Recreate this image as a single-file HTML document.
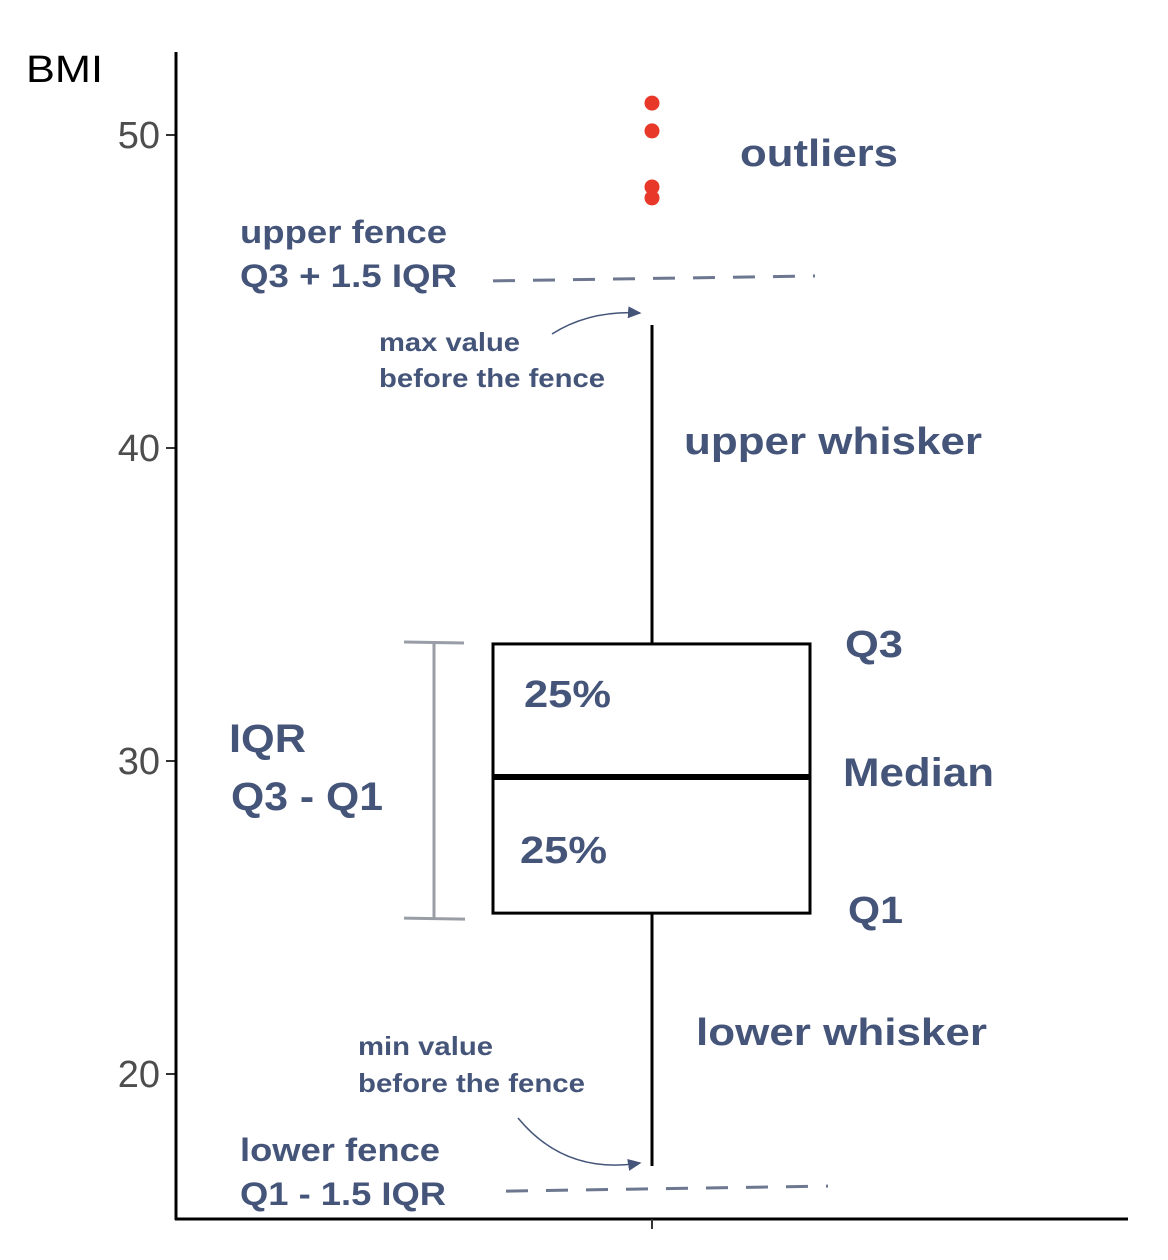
<!DOCTYPE html>
<html><head><meta charset="utf-8"><style>
html,body{margin:0;padding:0;background:#fff;}
svg{display:block;}
.lab{font-family:"Liberation Sans",sans-serif;font-weight:bold;fill:#45557a;}
.tick{font-family:"Liberation Sans",sans-serif;fill:#4d4d4d;font-size:38px;}
</style></head><body>
<svg id="chart" width="1168" height="1260" viewBox="0 0 1168 1260">
<defs><marker id="arr" markerWidth="10" markerHeight="10" refX="8" refY="4" orient="auto"><path d="M0,0 L9,4 L0,8 z" fill="#45557a"/></marker></defs>
<g id="marks"></g>
<line x1="176" y1="52" x2="176" y2="1220" stroke="#000" stroke-width="3"/>
<line x1="175" y1="1219" x2="1128" y2="1219" stroke="#000" stroke-width="3"/>
<line x1="652" y1="1219" x2="652" y2="1229" stroke="#333" stroke-width="2"/>
<text x="26" y="82" font-family="Liberation Sans,sans-serif" font-size="38" fill="#000" textLength="77" lengthAdjust="spacingAndGlyphs">BMI</text>
<text class="lab" x="740" y="166" font-size="38" textLength="158" lengthAdjust="spacingAndGlyphs">outliers</text>
<text class="lab" x="240" y="243" font-size="32" textLength="207" lengthAdjust="spacingAndGlyphs">upper fence</text>
<text class="lab" x="240" y="287" font-size="32" textLength="217" lengthAdjust="spacingAndGlyphs">Q3 + 1.5 IQR</text>
<text class="lab" x="379" y="351" font-size="26" textLength="141" lengthAdjust="spacingAndGlyphs">max value</text>
<text class="lab" x="379" y="387" font-size="26" textLength="226" lengthAdjust="spacingAndGlyphs">before the fence</text>
<path d="M552,334 Q590,310 640,313" fill="none" stroke="#45557a" stroke-width="1.5" marker-end="url(#arr)"/>
<text class="lab" x="684" y="454" font-size="38" textLength="298" lengthAdjust="spacingAndGlyphs">upper whisker</text>
<text class="lab" x="845" y="657" font-size="38" textLength="58" lengthAdjust="spacingAndGlyphs">Q3</text>
<text class="lab" x="843" y="786" font-size="40" textLength="151" lengthAdjust="spacingAndGlyphs">Median</text>
<text class="lab" x="848" y="923" font-size="38" textLength="55" lengthAdjust="spacingAndGlyphs">Q1</text>
<text class="lab" x="524" y="707" font-size="38" textLength="87" lengthAdjust="spacingAndGlyphs">25%</text>
<text class="lab" x="520" y="863" font-size="38" textLength="87" lengthAdjust="spacingAndGlyphs">25%</text>
<text class="lab" x="229" y="752" font-size="40" textLength="77" lengthAdjust="spacingAndGlyphs">IQR</text>
<text class="lab" x="231" y="810" font-size="40" textLength="152" lengthAdjust="spacingAndGlyphs">Q3 - Q1</text>
<text class="lab" x="696" y="1045" font-size="38" textLength="291" lengthAdjust="spacingAndGlyphs">lower whisker</text>
<text class="lab" x="358" y="1055" font-size="26" textLength="135" lengthAdjust="spacingAndGlyphs">min value</text>
<text class="lab" x="358" y="1092" font-size="26" textLength="227" lengthAdjust="spacingAndGlyphs">before the fence</text>
<path d="M518,1118 Q565,1175 640,1163" fill="none" stroke="#45557a" stroke-width="1.5" marker-end="url(#arr)"/>
<text class="lab" x="240" y="1161" font-size="32" textLength="200" lengthAdjust="spacingAndGlyphs">lower fence</text>
<text class="lab" x="240" y="1205" font-size="32" textLength="206" lengthAdjust="spacingAndGlyphs">Q1 - 1.5 IQR</text>
</svg>
<script>
const yTicks=[20,30,40,50];
const stats=[17.06,25.14,29.49,33.74,43.93]; // min, q1, median, q3, max
const outliers=[51.02,50.13,48.34,47.99];
const fences=[45.37,16.29];
const y=v=>135+(50-v)*31.3;
const cx=652, bx0=493, bx1=810;
const ns="http://www.w3.org/2000/svg";
const svg=document.getElementById('chart');
const g=document.getElementById('marks');
function mk(tag,attrs,parent){const e=document.createElementNS(ns,tag);for(const k in attrs)e.setAttribute(k,attrs[k]);(parent||g).appendChild(e);return e;}
yTicks.forEach(t=>{
  const l=mk('line',{x1:166,x2:176,y1:y(t),y2:y(t),stroke:'#333','stroke-width':2});
  
  
  const tx=mk('text',{x:160,y:y(t)+13,'text-anchor':'end',class:'tick'},svg);
  tx.textContent=t;
  
  
});
const w1=mk('line',{x1:cx,x2:cx,y1:y(stats[3]),y2:y(stats[4]),stroke:'#000','stroke-width':3});


const w2=mk('line',{x1:cx,x2:cx,y1:y(stats[1]),y2:y(stats[0]),stroke:'#000','stroke-width':3});


const box=mk('rect',{x:bx0,y:y(stats[3]),width:bx1-bx0,height:y(stats[1])-y(stats[3]),fill:'#fff',stroke:'#000','stroke-width':3});


const med=mk('line',{x1:bx0,x2:bx1,y1:y(stats[2]),y2:y(stats[2]),stroke:'#000','stroke-width':6});


outliers.forEach(o=>{
  const c=mk('circle',{cx:cx,cy:y(o),r:7.5,fill:'#e8382a'});
  
  
});
const f1=mk('line',{x1:493,x2:815,y1:y(fences[0])+1,y2:y(fences[0])-4,stroke:'#6d7890','stroke-width':3,'stroke-dasharray':'22,18'});


const f2=mk('line',{x1:506,x2:828,y1:y(fences[1])+1,y2:y(fences[1])-4,stroke:'#6d7890','stroke-width':3,'stroke-dasharray':'22,18'});


const ib=mk('path',{d:`M404,${y(stats[3])-2} L464,${y(stats[3])-1} M434,${y(stats[3])-1} L434,${y(stats[1])+5} M404,${y(stats[1])+5} L465,${y(stats[1])+6}`,stroke:'#999ea6','stroke-width':3,fill:'none'});


</script>
</body></html>
